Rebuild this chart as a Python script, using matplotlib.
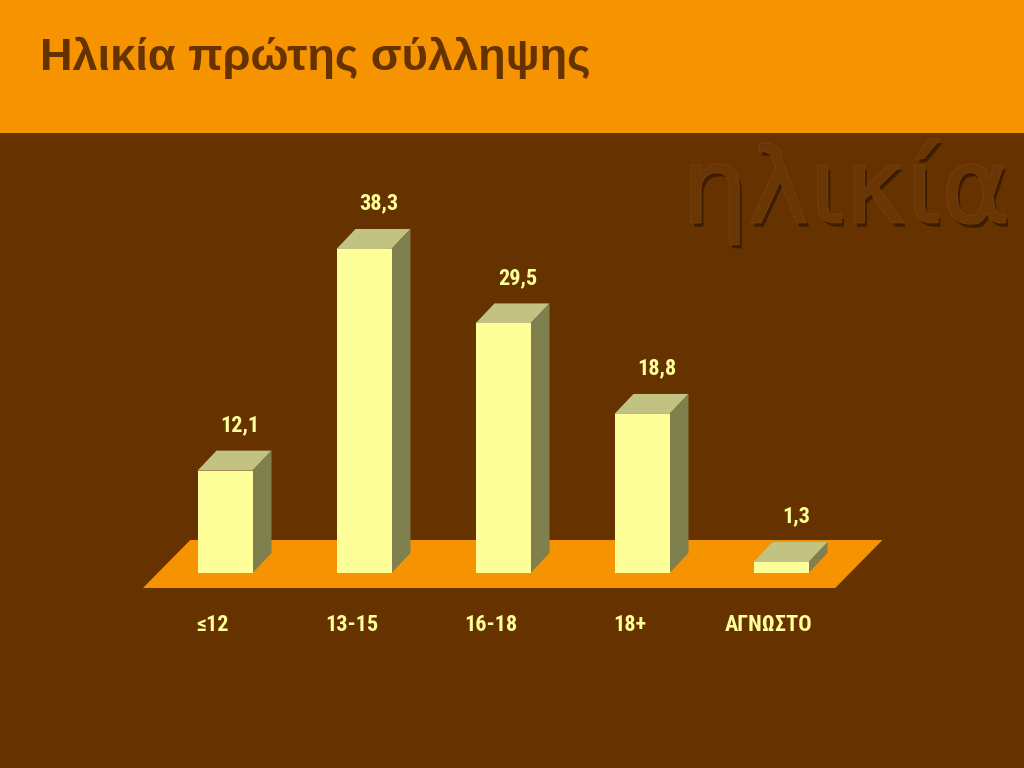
import matplotlib
matplotlib.use("Agg")
import matplotlib.pyplot as plt
from matplotlib.patches import Polygon, Rectangle
import matplotlib.patheffects as pe
from matplotlib import font_manager as fm

# ---- data ----
categories = ["≤12", "13-15", "16-18", "18+", "ΑΓΝΩΣΤΟ"]
values = [12.1, 38.3, 29.5, 18.8, 1.3]
value_labels = ["12,1", "38,3", "29,5", "18,8", "1,3"]
title = "Ηλικία πρώτης σύλληψης"
watermark = "ηλικία"

# ---- style ----
BG = "#663300"
ORANGE = "#F59300"
FRONT = "#FFFF99"
TOP = "#C2C282"
SIDE = "#80804F"
TEXT_Y = "#FFFF99"


def have(fam):
    try:
        fm.findfont(fm.FontProperties(family=fam), fallback_to_default=False)
        return True
    except Exception:
        return False


narrow = None
for fam in ["Liberation Sans Narrow", "DejaVu Sans Condensed", "Roboto Condensed", "Open Sans Condensed"]:
    if have(fam):
        narrow = fam
        break

fig = plt.figure(figsize=(10.24, 7.68), dpi=100)
fig.patch.set_facecolor(BG)

# header band
fig.patches.append(Rectangle((0, 1 - 133 / 768), 1, 133 / 768, transform=fig.transFigure,
                             facecolor=ORANGE, edgecolor="none", zorder=0))
fig.text(40 / 1024, 1 - 58 / 768, title, family="Liberation Sans", weight="bold",
         fontsize=32.5, color="#663300", va="center", ha="left")

# watermark
fig.text(1010 / 1024, 1 - 192 / 768, watermark, family="DejaVu Sans", fontsize=75,
         color="#6A3604", ha="right", va="center", zorder=1,
         path_effects=[pe.withSimplePatchShadow(offset=(2, -3), shadow_rgbFace="#3A1A00", alpha=0.9),
                       pe.Stroke(linewidth=1.2, foreground="#75420F"), pe.Normal()])

# chart axes: 1 x-unit = 139 px, 1 y-unit = 8.46 px
ax = fig.add_axes([0, 0, 1, 1])
ax.set_facecolor("none")
ax.set_xlim(-225 / 139, (1024 - 225) / 139)
ax.set_ylim(-195 / 8.46, (768 - 195) / 8.46)
ax.axis("off")

width = 55 / 139
dx = 19 / 139
dy = 20 / 8.46

# floor
floor = Polygon([(-0.59, -1.77), (4.39, -1.77), (4.73, 3.9), (-0.25, 3.9)],
                closed=True, facecolor=ORANGE, edgecolor="none", zorder=2)
ax.add_patch(floor)

n = len(values)
xs = list(range(n))
ax.bar(xs, values, width=width, color=FRONT, edgecolor="none", zorder=4)
for x, v in zip(xs, values):
    l, r = x - width / 2, x + width / 2
    ax.add_patch(Polygon([(l, v), (r, v), (r + dx, v + dy), (l + dx, v + dy)],
                         closed=True, facecolor=TOP, edgecolor="none", zorder=3))
    ax.add_patch(Polygon([(r, 0), (r + dx, dy), (r + dx, v + dy), (r, v)],
                         closed=True, facecolor=SIDE, edgecolor="none", zorder=3))

if narrow:
    lab_kw = dict(family=narrow, weight="bold", fontsize=16)
else:
    lab_kw = dict(family="DejaVu Sans", weight="bold", fontsize=13)

for x, v, lab in zip(xs, values, value_labels):
    ax.text(x + 0.11, v + dy + 3.0, lab, ha="center", va="center",
            color=TEXT_Y, zorder=5, **lab_kw)

for x, c in zip(xs, categories):
    ax.text(x - 0.09, -6.15, c, ha="center", va="center",
            color=TEXT_Y, zorder=5, **lab_kw)

fig.savefig("out.png", dpi=100, facecolor=BG)
